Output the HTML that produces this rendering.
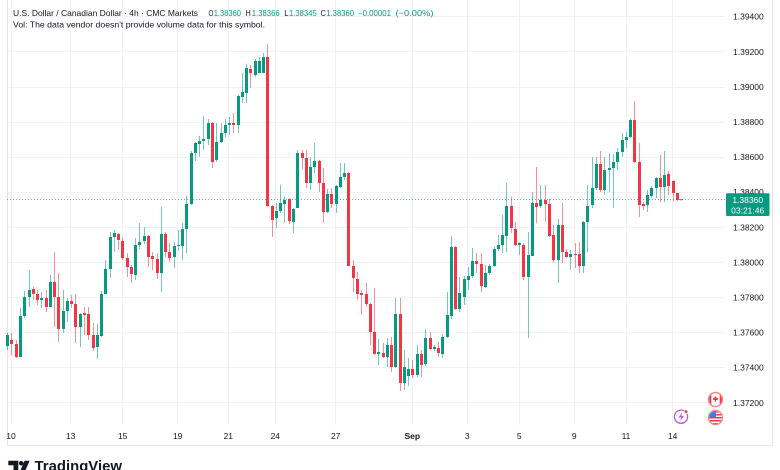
<!DOCTYPE html>
<html><head><meta charset="utf-8">
<style>
html,body{margin:0;padding:0;background:#fff;width:780px;height:470px;overflow:hidden}
svg{display:block;font-family:"Liberation Sans",Arial,sans-serif}
</style></head><body>
<svg width="780" height="470" viewBox="0 0 780 470" xmlns="http://www.w3.org/2000/svg">
<rect width="780" height="470" fill="#fff"/>
<g stroke="#eff1f5" stroke-width="1">
<line x1="7" x2="725" y1="16.5" y2="16.5"/>
<line x1="7" x2="725" y1="51.5" y2="51.5"/>
<line x1="7" x2="725" y1="87.5" y2="87.5"/>
<line x1="7" x2="725" y1="122.5" y2="122.5"/>
<line x1="7" x2="725" y1="157.5" y2="157.5"/>
<line x1="7" x2="725" y1="192.5" y2="192.5"/>
<line x1="7" x2="725" y1="227.5" y2="227.5"/>
<line x1="7" x2="725" y1="262.5" y2="262.5"/>
<line x1="7" x2="725" y1="297.5" y2="297.5"/>
<line x1="7" x2="725" y1="332.5" y2="332.5"/>
<line x1="7" x2="725" y1="367.5" y2="367.5"/>
<line x1="7" x2="725" y1="402.5" y2="402.5"/>
</g>
<g stroke="#eff1f5" stroke-width="1">
<line y1="0" y2="425" x1="11.5" x2="11.5"/>
<line y1="0" y2="425" x1="70.5" x2="70.5"/>
<line y1="0" y2="425" x1="122.5" x2="122.5"/>
<line y1="0" y2="425" x1="177.5" x2="177.5"/>
<line y1="0" y2="425" x1="228.5" x2="228.5"/>
<line y1="0" y2="425" x1="275.5" x2="275.5"/>
<line y1="0" y2="425" x1="335.5" x2="335.5"/>
<line y1="0" y2="425" x1="412.5" x2="412.5"/>
<line y1="0" y2="425" x1="467.5" x2="467.5"/>
<line y1="0" y2="425" x1="519.5" x2="519.5"/>
<line y1="0" y2="425" x1="574.5" x2="574.5"/>
<line y1="0" y2="425" x1="626.5" x2="626.5"/>
<line y1="0" y2="425" x1="672.5" x2="672.5"/>
</g>
<g stroke="#e3e5eb" stroke-width="1" fill="none">
<line x1="7.5" x2="7.5" y1="0" y2="445.5"/>
<line x1="772.5" x2="772.5" y1="0" y2="445.5"/>
<line x1="7.5" x2="772.5" y1="445.5" y2="445.5"/>
</g>
<line x1="7" x2="726" y1="199.5" y2="199.5" stroke="#089981" stroke-opacity="0.7" stroke-dasharray="1 2"/>
<g id="cd"></g>
<g font-size="8.5" fill="#131722">
<text x="13" y="16" textLength="185" lengthAdjust="spacingAndGlyphs">U.S. Dollar / Canadian Dollar · 4h · CMC Markets</text>
<text x="208.5" y="16" textLength="5" lengthAdjust="spacingAndGlyphs">O</text>
<text x="213.7" y="16" textLength="27.3" lengthAdjust="spacingAndGlyphs" fill="#089981">1.38360</text>
<text x="245.5" y="16" textLength="5.3" lengthAdjust="spacingAndGlyphs">H</text>
<text x="251.7" y="16" textLength="28" lengthAdjust="spacingAndGlyphs" fill="#089981">1.38366</text>
<text x="284.3" y="16" textLength="4.3" lengthAdjust="spacingAndGlyphs">L</text>
<text x="289" y="16" textLength="27.7" lengthAdjust="spacingAndGlyphs" fill="#089981">1.38345</text>
<text x="320.5" y="16" textLength="5.3" lengthAdjust="spacingAndGlyphs">C</text>
<text x="326.3" y="16" textLength="27.7" lengthAdjust="spacingAndGlyphs" fill="#089981">1.38360</text>
<text x="358" y="16" textLength="33" lengthAdjust="spacingAndGlyphs" fill="#089981">−0.00001</text>
<text x="395.5" y="16" textLength="38" lengthAdjust="spacingAndGlyphs" fill="#089981">(−0.00%)</text>
<text x="13" y="27.3" textLength="252" lengthAdjust="spacingAndGlyphs">Vol: The data vendor doesn't provide volume data for this symbol.</text>
</g>
<g font-size="8.5" fill="#131722">
<text x="733" y="19.5">1.39400</text>
<text x="733" y="54.8">1.39200</text>
<text x="733" y="89.9">1.39000</text>
<text x="733" y="125">1.38800</text>
<text x="733" y="160.1">1.38600</text>
<text x="733" y="195.2">1.38400</text>
<text x="733" y="230.3">1.38200</text>
<text x="733" y="265.4">1.38000</text>
<text x="733" y="300.5">1.37800</text>
<text x="733" y="335.6">1.37600</text>
<text x="733" y="370.7">1.37400</text>
<text x="733" y="405.8">1.37200</text>
</g>
<rect x="726" y="193.3" width="43.5" height="22.7" rx="1.5" fill="#089981"/>
<g font-size="8.5" fill="#fff" text-anchor="middle">
<text x="747.7" y="203">1.38360</text>
<text x="747.7" y="213.7">03:21:46</text>
</g>
<g font-size="8.5" fill="#131722" text-anchor="middle">
<text x="11" y="439">10</text>
<text x="70.7" y="439">13</text>
<text x="122.7" y="439">15</text>
<text x="177.7" y="439">19</text>
<text x="228.3" y="439">21</text>
<text x="275.3" y="439">24</text>
<text x="335.7" y="439">27</text>
<text x="412.3" y="439" font-weight="bold">Sep</text>
<text x="467.3" y="439">3</text>
<text x="519.3" y="439">5</text>
<text x="574.3" y="439">9</text>
<text x="626" y="439">11</text>
<text x="672.7" y="439">14</text>
</g>
<defs>
<clipPath id="ca"><circle cx="715.5" cy="399.5" r="6.3"/></clipPath>
<clipPath id="us"><circle cx="715.5" cy="417.5" r="6.3"/></clipPath>
</defs>
<circle cx="715.5" cy="399.5" r="7" fill="#fff" stroke="#f7868d" stroke-width="1.4"/>
<g clip-path="url(#ca)" fill="#f23645">
<rect x="708" y="392" width="3.3" height="15"/>
<rect x="719.7" y="392" width="3.3" height="15"/>
<path d="M715.5 396.3 l1.6 2 l1 -0.6 l-0.4 2.4 h-1.7 v1.6 h-1 v-1.6 h-1.7 l-0.4 -2.4 l1 0.6z"/>
</g>
<circle cx="715.5" cy="417.5" r="7" fill="#fff" stroke="#f7868d" stroke-width="1.4"/>
<g clip-path="url(#us)">
<rect x="708" y="410" width="15" height="15" fill="#fff"/>
<rect x="708" y="411" width="15" height="1.5" fill="#f23645"/>
<rect x="708" y="414" width="15" height="1.5" fill="#f23645"/>
<rect x="708" y="417" width="15" height="1.5" fill="#f23645"/>
<rect x="708" y="420" width="15" height="1.5" fill="#f23645"/>
<rect x="708" y="423" width="15" height="1.5" fill="#f23645"/>
<rect x="708" y="410" width="8" height="7" fill="#3d7fe0"/>
</g>
<circle cx="681" cy="416.7" r="6.6" fill="#fff" stroke="#b35ad6" stroke-width="1.3"/>
<path d="M682.3 412.2 l-3.6 5.2 h2.6 l-1.3 4.2 l3.9 -5.6 h-2.6 z" fill="#b35ad6"/>
<circle cx="686" cy="411.8" r="1.9" fill="#f23645" stroke="#fff" stroke-width="0.8"/>
<g fill="#131722">
<path d="M8.3 460.8 h10 v10.5 h-4.8 v-6 h-5.2 z"/>
<circle cx="21.2" cy="463.3" r="2.3"/>
<path d="M24.6 460.8 h5 l-4.6 10.5 h-5 z"/>
<text x="34.5" y="471" font-size="14.6" font-weight="bold" textLength="87.5" lengthAdjust="spacingAndGlyphs">TradingView</text>
</g>
</svg>
<script>
(function(){
var D=[[346,335,333,350],[340,344,333,355],[344,357,340,358],[357,316,308,357],[316,297,291,318],[297,290,270,307],[289,294,287,300],[294,300,290,305],[300,298,292,308],[298,307,290,312],
[307,282,275,307],[282,297,252,327],[297,329,273,342],[329,311,290,333],[311,301,298,322],[301,304,295,308],[304,327,294,343],[327,314,313,347],[313,315,307,335],[314,335,307,340],
[335,348,323,351],[347,335,324,359],[336,294,291,337],[294,269,260,294],[269,237,232,278],[237,233,230,252],[234,240,233,250],[241,258,237,260],[258,267,253,277],[267,274,265,283],
[275,245,238,280],[245,242,223,249],[241,236,227,244],[236,257,235,267],[256,259,252,270],[259,273,253,279],[273,234,207,292],[234,252,232,257],[252,258,243,262],[257,246,242,268],
[246,245,230,251],[246,229,223,260],[229,204,196,253],[204,153,151,205],[153,143,142,161],[144,141,136,157],[141,139,116,150],[139,123,119,145],[123,162,122,168],[160,142,123,162],
[142,133,123,143],[133,125,119,137],[125,123,117,135],[123,125,113,133],[125,96,95,133],[97,92,73,103],[93,68,64,103],[69,73,65,88],[75,61,59,77],[73,61,57,73],
[73,57,53,73],[57,206,44,207],[206,220,205,237],[218,211,203,228],[211,203,185,213],[204,200,196,223],[199,221,198,224],[222,209,208,233],[208,153,150,208],[153,158,150,169],
[158,183,150,188],[183,167,157,190],[167,161,143,173],[161,183,160,192],[183,212,168,223],[212,194,189,213],[194,204,188,208],[204,186,185,213],[187,177,163,188],[177,173,163,180],
[173,266,172,266],[266,278,260,292],[279,294,272,300],[293,295,290,315],[294,304,283,307],[304,332,303,345],[332,354,288,355],[354,352,339,365],[353,357,343,358],[357,345,338,367],
[345,367,337,372],[367,314,298,368],[314,383,298,391],[383,367,350,390],[376,369,358,386],[369,375,360,378],[375,354,345,377],[354,365,350,377],[364,338,329,366],[338,349,332,350],
[349,347,345,351],[348,353,342,357],[354,337,334,358],[337,315,292,338],[316,247,236,319],[247,309,246,310],[309,293,277,312],[297,279,276,305],[280,276,267,290],[276,261,248,278],
[261,264,253,273],[264,286,253,292],[287,273,265,288],[273,266,264,275],[266,249,247,267],[249,245,235,251],[245,235,215,253],[236,206,183,252],[206,228,197,233],[229,245,222,246],
[245,243,242,255],[245,277,243,280],[277,255,232,338],[256,203,192,256],[203,207,167,223],[206,200,185,208],[200,204,185,222],[204,236,199,237],[235,260,225,263],[260,225,219,283],
[225,252,203,263],[252,257,249,258],[257,254,250,270],[254,255,243,268],[254,266,242,273],[266,222,221,273],[222,206,185,252],[205,188,157,208],[188,164,157,190],[164,190,151,192],
[190,170,157,195],[170,168,153,192],[168,162,154,208],[162,152,148,170],[152,140,133,157],[140,137,132,148],[137,120,119,138],[120,162,101,163],[162,205,143,217],[204,206,202,210],
[205,195,190,212],[196,188,186,198],[188,178,177,198],[178,187,155,202],[187,175,151,202],[174,186,171,195],[181,193,180,201],[193,200,193,201],[199.6,199.2,199,200]];
var NS='http://www.w3.org/2000/svg';
var g=document.getElementById('cd');
for(var i=0;i<D.length;i++){
 var d=D[i],x=7.7+i*4.266,xi=Math.floor(x),o=d[0],c=d[1],hi=d[2],lo=d[3];
 var col=(c<o)?'#089981':'#f23645';
 var yT=Math.min(o,c),yB=Math.max(o,c);
 var ln=document.createElementNS(NS,'line');
 ln.setAttribute('x1',xi+0.5);ln.setAttribute('x2',xi+0.5);
 ln.setAttribute('y1',hi);ln.setAttribute('y2',lo);
 ln.setAttribute('stroke',col);ln.setAttribute('stroke-opacity','0.55');ln.setAttribute('stroke-width','1');
 g.appendChild(ln);
 var r=document.createElementNS(NS,'rect');
 r.setAttribute('x',xi-1);r.setAttribute('y',yT);
 r.setAttribute('width',3);r.setAttribute('height',Math.max(1,yB-yT));
 r.setAttribute('fill',col);
 g.appendChild(r);
}
})();
</script>
</body></html>
